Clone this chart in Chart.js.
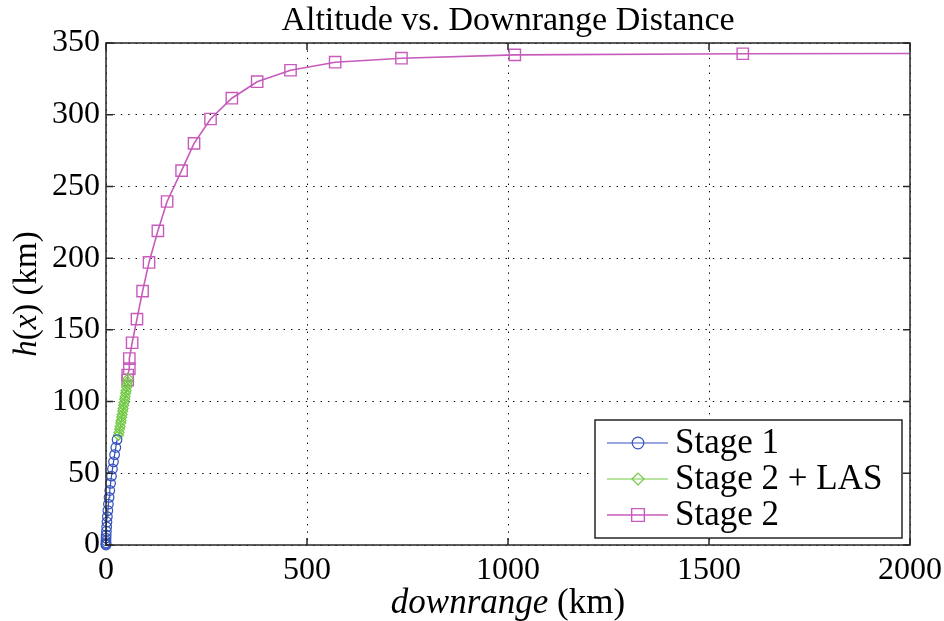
<!DOCTYPE html>
<html>
<head>
<meta charset="utf-8">
<title>Altitude vs. Downrange Distance</title>
<script src="https://cdn.jsdelivr.net/npm/chart.js@4.4.1/dist/chart.umd.min.js"></script>
<style>
  html, body { margin: 0; padding: 0; background: #fff; }
  canvas { display: block; }
</style>
</head>
<body>
<canvas id="myChart" width="944" height="621"></canvas>
<script>
// values, downrange (km) and altitude (km)
const stage1X = [0, 0, 0, 0, 0.2, 0.5, 1, 1.6, 2.4, 3.4, 4.6, 6, 7.6, 9.4, 11.4, 13.6, 16, 18.6, 21.4, 24.4, 27.5];
const stage1H = [0, 0.6, 1.6, 3, 4.8, 7, 9.6, 12.6, 16, 19.8, 24, 28.5, 33.2, 38, 43, 48, 53, 58, 63, 68, 73.5];

const stage2LasX = [31, 32.4, 33.9, 35, 36.5, 37.6, 39, 40.1, 41.5, 42.6, 44, 45.1, 46.5, 47.6, 49, 50.1, 51.5, 52.6, 54, 55];
const stage2LasH = [76.5, 78.5, 80.8, 82.7, 85, 86.8, 89.1, 91, 93.3, 95.2, 97.5, 99.3, 101.6, 103.5, 105.8, 107.6, 110, 111.8, 114, 116];

const stage2X = [54, 54, 58, 58, 65, 77, 91, 107, 129, 152, 188, 219, 260, 313, 376, 459, 570, 735, 1017, 1584, 2400];
const stage2H = [115, 118.5, 123, 130, 141, 157.5, 177, 197, 219, 239.5, 261, 280, 297, 311.5, 323, 331, 336.6, 339.4, 341.7, 342.5, 342.9];

const seriesLabels = ['Stage 1', 'Stage 2 + LAS', 'Stage 2'];
const xTicks = [0, 500, 1000, 1500, 2000];
const yTicks = [0, 50, 100, 150, 200, 250, 300, 350];
const chartTitle = 'Altitude vs. Downrange Distance';

const serif = "'Liberation Serif', 'Times New Roman', serif";

function toPoints(xs, ys) {
  return xs.map((x, i) => ({ x: x, y: ys[i] }));
}

// draw a string made of runs with different font styles, centred on (cx, cy)
function drawRuns(ctx, runs, cx, cy, size) {
  let total = 0;
  runs.forEach(r => {
    ctx.font = (r.italic ? 'italic ' : '') + size + 'px ' + serif;
    r.w = ctx.measureText(r.t).width;
    total += r.w;
  });
  let x = cx - total / 2;
  ctx.textAlign = 'left';
  ctx.textBaseline = 'middle';
  runs.forEach(r => {
    ctx.font = (r.italic ? 'italic ' : '') + size + 'px ' + serif;
    ctx.fillText(r.t, x, cy);
    x += r.w;
  });
}

// box, inward ticks, titles and legend drawn the MATLAB way
const matlabLook = {
  id: 'matlabLook',
  afterDraw(chart) {
    const ctx = chart.ctx;
    const a = chart.chartArea;
    const sx = chart.scales.x;
    const sy = chart.scales.y;
    ctx.save();

    ctx.strokeStyle = '#262626';
    ctx.lineWidth = 1.5;
    ctx.strokeRect(a.left, a.top, a.right - a.left, a.bottom - a.top);

    ctx.beginPath();
    xTicks.forEach(v => {
      const px = sx.getPixelForValue(v);
      ctx.moveTo(px, a.bottom); ctx.lineTo(px, a.bottom - 7);
      ctx.moveTo(px, a.top); ctx.lineTo(px, a.top + 7);
    });
    yTicks.forEach(v => {
      const py = sy.getPixelForValue(v);
      ctx.moveTo(a.left, py); ctx.lineTo(a.left + 7, py);
      ctx.moveTo(a.right, py); ctx.lineTo(a.right - 7, py);
    });
    ctx.stroke();

    ctx.fillStyle = '#000';
    const midX = (a.left + a.right) / 2;
    drawRuns(ctx, [{ t: chartTitle }], midX, 21, 34);
    drawRuns(ctx, [{ t: 'downrange', italic: true }, { t: ' (km)' }], midX, 604, 35);

    ctx.save();
    ctx.translate(27, (a.top + a.bottom) / 2);
    ctx.rotate(-Math.PI / 2);
    drawRuns(ctx, [{ t: 'h', italic: true }, { t: '(' }, { t: 'x', italic: true }, { t: ') (km)' }], 0, 0, 33);
    ctx.restore();

    // legend box in the lower right corner
    const lw = 307, lh = 118;
    const lx = a.right - 8 - lw;
    const ly = a.bottom - 7 - lh;
    ctx.fillStyle = '#fff';
    ctx.fillRect(lx, ly, lw, lh);
    ctx.strokeStyle = '#262626';
    ctx.lineWidth = 1.5;
    ctx.strokeRect(lx, ly, lw, lh);

    chart.data.datasets.forEach((ds, i) => {
      const rowY = ly + 23 + i * 36;
      ctx.strokeStyle = ds.borderColor;
      ctx.lineWidth = ds.borderWidth;
      ctx.beginPath();
      ctx.moveTo(lx + 12, rowY);
      ctx.lineTo(lx + 73, rowY);
      ctx.stroke();
      ctx.fillStyle = 'rgba(0,0,0,0)';
      ctx.lineWidth = ds.pointBorderWidth;
      Chart.helpers.drawPoint(ctx, {
        pointStyle: ds.pointStyle, radius: ds.pointRadius + 1, rotation: 0, borderWidth: ds.pointBorderWidth
      }, lx + 43, rowY);
      ctx.fillStyle = '#000';
      ctx.font = '35px ' + serif;
      ctx.textAlign = 'left';
      ctx.textBaseline = 'middle';
      ctx.fillText(ds.label, lx + 80, rowY + 1);
    });

    ctx.restore();
  }
};

document.addEventListener('DOMContentLoaded', function() {
  const ctx = document.getElementById('myChart').getContext('2d');
  const gridOpts = { color: '#000', lineWidth: 1, drawTicks: false };
  const borderOpts = { display: false, dash: [1.4, 6] };

  new Chart(ctx, {
    type: 'line',
    data: {
      datasets: [{
        label: seriesLabels[0],
        data: toPoints(stage1X, stage1H),
        borderColor: '#3352bd',
        borderWidth: 1.2,
        pointStyle: 'circle',
        pointRadius: 4.8,
        pointBorderWidth: 1.2,
        pointBackgroundColor: 'rgba(0,0,0,0)',
        pointBorderColor: '#3352bd',
        clip: false
      }, {
        label: seriesLabels[1],
        data: toPoints(stage2LasX, stage2LasH),
        borderColor: '#72c945',
        borderWidth: 1.2,
        pointStyle: 'rectRot',
        pointRadius: 5,
        pointBorderWidth: 1.2,
        pointBackgroundColor: 'rgba(0,0,0,0)',
        pointBorderColor: '#72c945'
      }, {
        label: seriesLabels[2],
        data: toPoints(stage2X, stage2H),
        borderColor: '#c75bbb',
        borderWidth: 1.6,
        pointStyle: 'rect',
        pointRadius: 8,
        pointBorderWidth: 1.4,
        pointBackgroundColor: 'rgba(0,0,0,0)',
        pointBorderColor: '#c75bbb'
      }]
    },
    options: {
      responsive: false,
      animation: false,
      layout: { padding: { left: 50, right: 34, top: 43, bottom: 0 } },
      plugins: {
        legend: { display: false },
        tooltip: { enabled: false }
      },
      scales: {
        x: {
          type: 'linear',
          min: 0,
          max: 2000,
          afterFit: scale => { scale.height = 76; scale.paddingLeft = 0; scale.paddingRight = 0; },
          afterBuildTicks: scale => { scale.ticks = xTicks.map(v => ({ value: v })); },
          grid: gridOpts,
          border: borderOpts,
          ticks: { color: '#000', padding: 6, maxRotation: 0, callback: v => String(v), font: { family: serif, size: 32 } }
        },
        y: {
          type: 'linear',
          min: 0,
          max: 350,
          afterFit: scale => { scale.width = 56; scale.paddingTop = 0; scale.paddingBottom = 0; },
          afterBuildTicks: scale => { scale.ticks = yTicks.map(v => ({ value: v })); },
          grid: gridOpts,
          border: borderOpts,
          ticks: { color: '#000', padding: 6, callback: v => String(v), font: { family: serif, size: 32 } }
        }
      }
    },
    plugins: [matlabLook]
  });
});
</script>
</body>
</html>
